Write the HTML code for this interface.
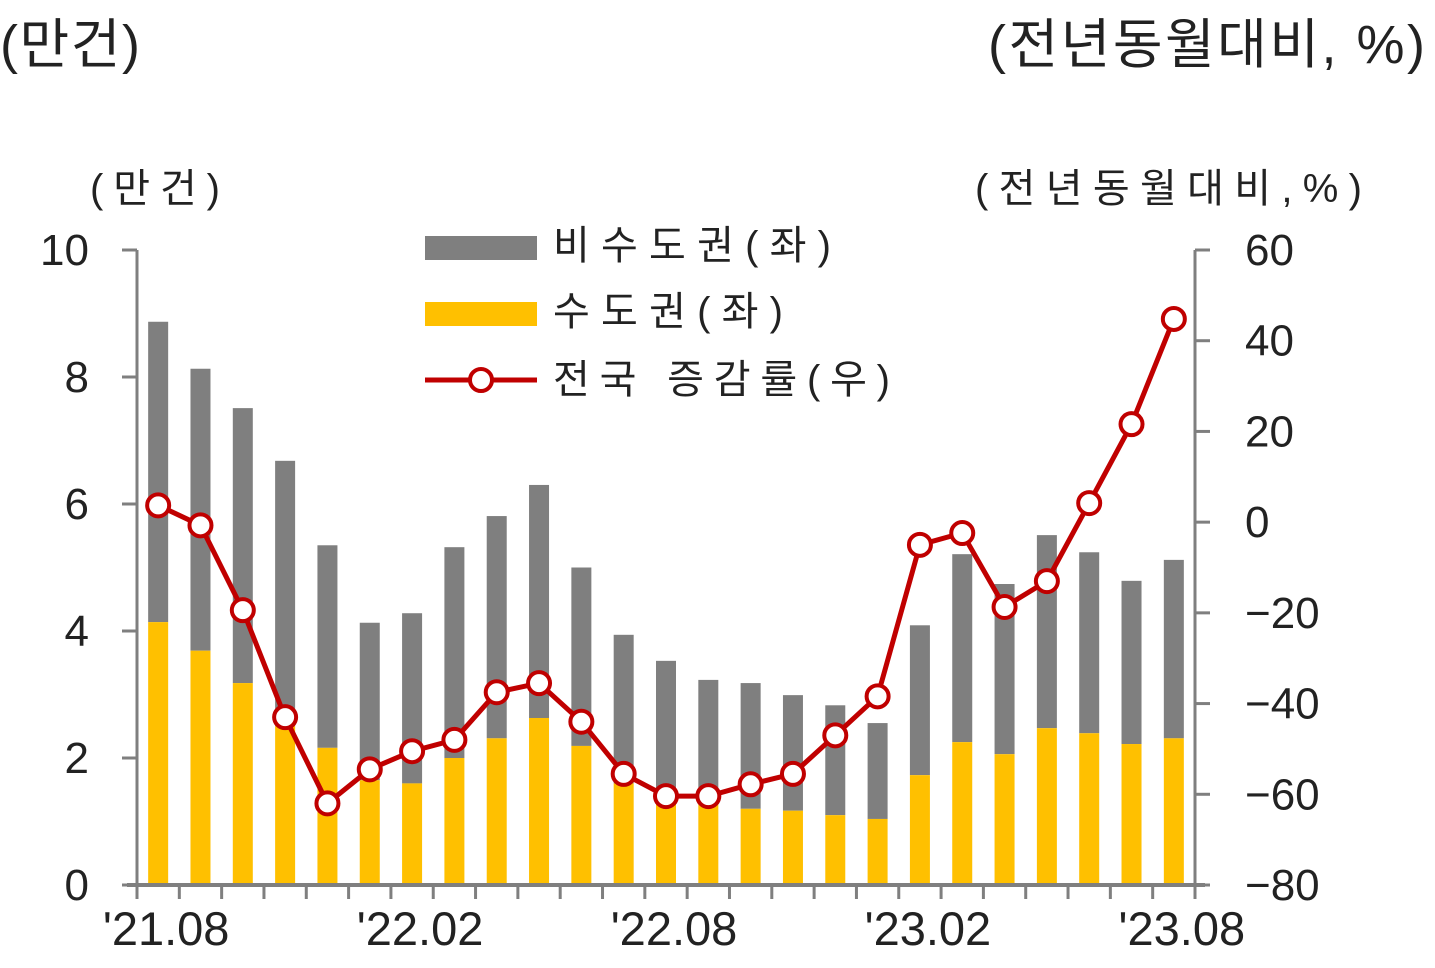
<!DOCTYPE html>
<html><head><meta charset="utf-8"><style>
body{margin:0;background:#fff;width:1435px;height:963px;overflow:hidden}
svg text{font-family:"Liberation Sans","Noto Sans CJK KR",sans-serif;fill:#222}
</style></head><body>
<svg id="c" width="1435" height="963">
<text x="0" y="63" font-size="54" textLength="140">(만건)</text>
<text x="988" y="63" font-size="54" textLength="437">(전년동월대비, %)</text>
<text x="90" y="202" font-size="40" textLength="130">(만건)</text>
<text x="975" y="202" font-size="40" textLength="387">(전년동월대비,%)</text>
<g id="bars"></g><g id="axes"></g><g id="line"></g>
<g>
<rect x="425" y="236" width="112" height="24" fill="#7f7f7f"/>
<text x="553" y="259" font-size="40" textLength="278">비수도권(좌)</text>
<rect x="425" y="302" width="112" height="24" fill="#ffc000"/>
<text x="553" y="325" font-size="40" textLength="230">수도권(좌)</text>
<line x1="425" y1="380" x2="537" y2="380" stroke="#c00000" stroke-width="5"/>
<circle cx="481" cy="380" r="11" fill="#fff" stroke="#c00000" stroke-width="4"/>
<text x="553" y="393" font-size="40" textLength="337">전국 증감률(우)</text>
</g>
</svg>
<script>
const categories=['21.08','21.09','21.10','21.11','21.12','22.01','22.02','22.03','22.04','22.05','22.06','22.07','22.08','22.09','22.10','22.11','22.12','23.01','23.02','23.03','23.04','23.05','23.06','23.07','23.08'];
const totalValues=[8.87,8.13,7.51,6.68,5.35,4.13,4.28,5.32,5.81,6.3,5.0,3.94,3.53,3.23,3.18,2.99,2.83,2.55,4.09,5.21,4.74,5.51,5.24,4.79,5.12];
const capitalValues=[4.14,3.69,3.18,2.5,2.16,1.65,1.6,2.0,2.31,2.63,2.19,1.6,1.3,1.3,1.2,1.17,1.1,1.04,1.73,2.25,2.06,2.47,2.39,2.22,2.31];
const growthValues=[3.7,-0.7,-19.4,-43,-62,-54.5,-50.5,-48,-37.5,-35.5,-44,-55.5,-60.4,-60.4,-57.8,-55.5,-47,-38.4,-5,-2.4,-18.7,-13,4.2,21.6,44.8];
const leftTicks=[0,2,4,6,8,10];
const rightTicks=[-80,-60,-40,-20,0,20,40,60];
const xLabels=[[0,"'21.08"],[6,"'22.02"],[12,"'22.08"],[18,"'23.02"],[24,"'23.08"]];
const NS='http://www.w3.org/2000/svg';
const X0=137,X1=1195,Y0=885,Y1=250;
const bw=(X1-X0)/categories.length;
const xc=i=>X0+bw*(i+0.5);
const yL=v=>Y0-(v/10)*(Y0-Y1);
const yR=v=>Y0-((v+80)/140)*(Y0-Y1);
function mk(t,a,p){const e=document.createElementNS(NS,t);for(const k in a)e.setAttribute(k,a[k]);p.appendChild(e);return e;}
const bars=document.getElementById('bars'),axes=document.getElementById('axes'),line=document.getElementById('line');
categories.forEach((c,i)=>{
 const g=mk('rect',{x:xc(i)-10,y:yL(totalValues[i]),width:20,height:yL(capitalValues[i])-yL(totalValues[i]),fill:'#7f7f7f'},bars);
 
 
 const y=mk('rect',{x:xc(i)-10,y:yL(capitalValues[i]),width:20,height:Y0-yL(capitalValues[i]),fill:'#ffc000'},bars);
 
 
});
let a=mk('line',{x1:X0,y1:Y1,x2:X0,y2:Y0,stroke:'#7f7f7f','stroke-width':3},axes);


a=mk('line',{x1:X1,y1:Y1,x2:X1,y2:Y0,stroke:'#7f7f7f','stroke-width':3},axes);


a=mk('line',{x1:X0-10,y1:Y0,x2:X1+10,y2:Y0,stroke:'#7f7f7f','stroke-width':4},axes);


leftTicks.forEach(v=>{
 mk('line',{x1:X0-15,y1:yL(v),x2:X0,y2:yL(v),stroke:'#7f7f7f','stroke-width':3},axes);
 const t=mk('text',{x:X0-48,y:yL(v)+15,'font-size':44,'text-anchor':'end'},axes);t.textContent=v;
 
 
});
rightTicks.forEach(v=>{
 mk('line',{x1:X1,y1:yR(v),x2:X1+15,y2:yR(v),stroke:'#7f7f7f','stroke-width':3},axes);
 const t=mk('text',{x:X1+50,y:yR(v)+15,'font-size':44},axes);t.textContent=(v<0?'−':'')+Math.abs(v);
 
 
});
for(let i=0;i<=categories.length;i++)mk('line',{x1:X0+bw*i,y1:Y0,x2:X0+bw*i,y2:Y0+14,stroke:'#7f7f7f','stroke-width':3},axes);
xLabels.forEach(([i,l])=>{
 const t=mk('text',{x:xc(i)+8,y:945,'font-size':47,'text-anchor':'middle'},axes);t.textContent=l;
 
 
});
const pl=mk('polyline',{points:growthValues.map((v,i)=>xc(i)+','+yR(v)).join(' '),fill:'none',stroke:'#c00000','stroke-width':5},line);


growthValues.forEach((v,i)=>{
 const c=mk('circle',{cx:xc(i),cy:yR(v),r:11,fill:'#fff',stroke:'#c00000','stroke-width':4},line);
 
 
});
</script>
</body></html>
